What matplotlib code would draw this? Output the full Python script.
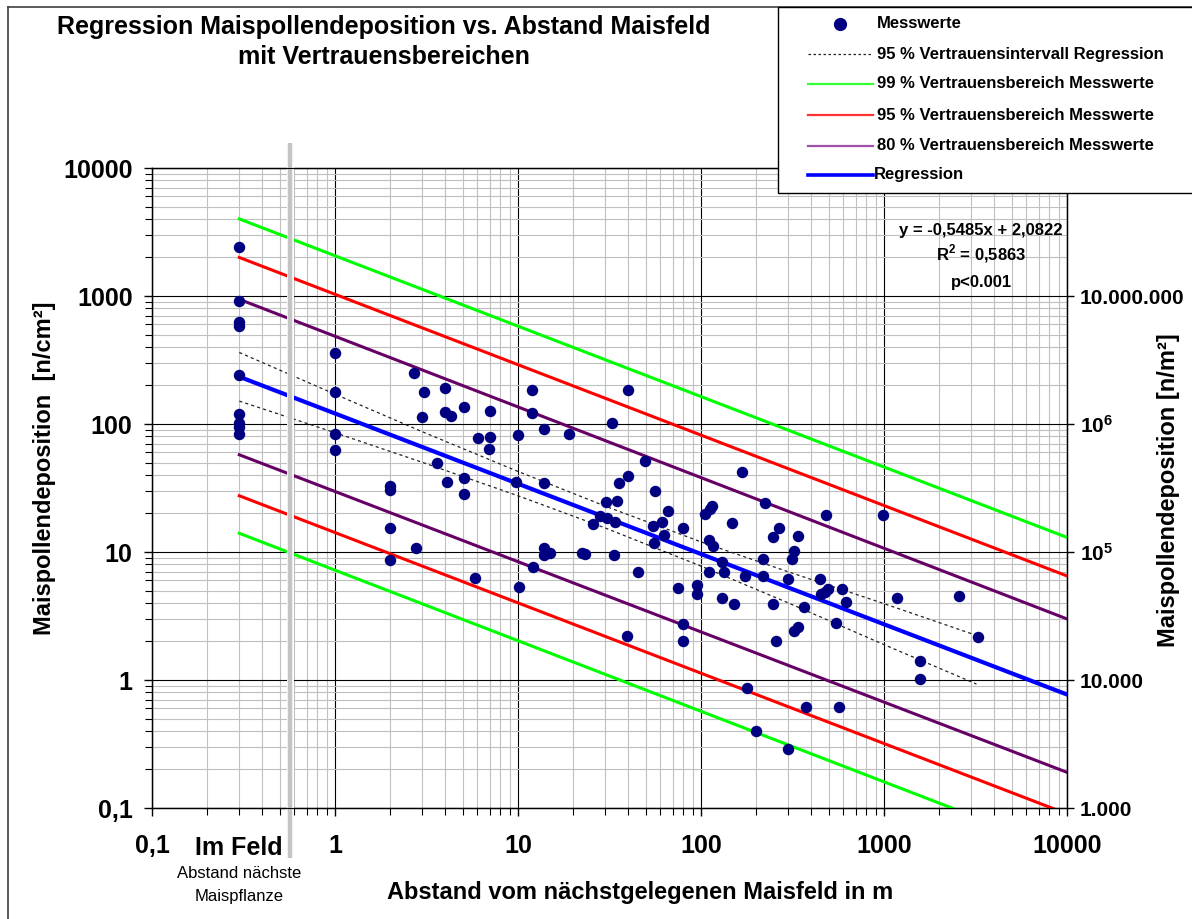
import matplotlib
matplotlib.use("Agg")
import matplotlib.pyplot as plt
import matplotlib.transforms as mtransforms
from matplotlib import font_manager
from matplotlib.lines import Line2D
from matplotlib.patches import Rectangle
from matplotlib.ticker import FixedLocator, LogLocator, NullFormatter, NullLocator


distance_m = [
    0.3, 0.3, 0.3, 0.3, 0.3, 0.3, 0.3, 0.3, 0.3,
    1, 1, 1, 1,
    2, 2, 2, 2,
    2.7, 2.77, 3.05, 3.0, 3.6, 3.97, 4.0, 4.07, 4.3,
    5.07, 5.07, 5.07, 5.8, 6.07, 6.9, 7.03, 7.03,
    9.75, 10, 10.1, 12, 12, 12.1, 13.9, 13.9, 13.9, 13.9, 14.9,
    19.1, 22.3, 23.2, 25.6, 28.1, 30.1, 30.5, 32.7, 33.5, 33.9, 34.9, 35.5,
    39.3, 39.9, 39.9, 45.4, 49.2, 54.5, 55.3, 56.1, 61.2, 63, 66.2,
    74.5, 80, 80, 80, 94.6, 94.6, 105, 111, 111, 112, 115, 117,
    130, 131, 134, 147, 152, 168, 174, 179, 201, 219, 219, 224,
    248, 248, 257, 267, 297, 297, 316, 324, 324, 337, 337, 366, 375,
    447, 453, 476, 485, 492, 547, 567, 592, 620, 982, 1172, 1577, 1577, 2570, 3250,
]
deposition = [
    2400, 920, 630, 585, 240, 120, 102, 95, 83,
    361, 179, 83, 63,
    32.8, 30.5, 15.3, 8.6,
    252, 10.8, 179, 113, 50, 192, 124, 35, 116,
    136, 37.7, 28.3, 6.3, 77.5, 64, 126, 79,
    35.3, 82.5, 5.36, 185, 121, 7.6, 91, 34.6, 10.7, 9.5, 9.8,
    83, 9.9, 9.6, 16.6, 19.1, 24.7, 18.3, 102, 9.4, 17.3, 25.2, 34.8,
    2.22, 185, 39.4, 7.0, 51.7, 16, 11.7, 29.7, 17.3, 13.6, 21,
    5.26, 15.3, 2.74, 2.02, 5.5, 4.68, 19.9, 12.4, 7.0, 21.5, 22.9, 11.1,
    8.4, 4.35, 7.0, 17, 3.9, 42.2, 6.5, 0.87, 0.40, 8.8, 6.5, 24,
    13, 3.9, 2.02, 15.3, 6.1, 0.29, 8.8, 10.1, 2.43, 13.4, 2.6, 3.7, 0.615,
    6.15, 4.7, 4.9, 19.5, 5.1, 2.8, 0.615, 5.1, 4.07, 19.5, 4.35, 1.42, 1.02, 4.56, 2.17,
]

line_x = [0.3, 10000]
regression_y = [234, 0.77]
upper_99 = [4000, 13]
lower_99 = [14, 0.045]
upper_95 = [2000, 6.5]
lower_95 = [27.5, 0.09]
upper_80 = [942, 3.0]
lower_80 = [57.5, 0.19]

# 95 % Vertrauensintervall der Regression
ci_x = [0.3, 1, 3, 10, 30, 100, 300, 1000, 3200]
ci_upper = [362, 171, 87, 42.6, 22.8, 12.0, 7.0, 3.95, 2.23]
ci_lower = [151, 85.5, 50.2, 27.5, 15.4, 7.76, 4.0, 1.89, 0.93]

x_ticks = [0.1, 1, 10, 100, 1000, 10000]
x_ticklabels = ["0,1", "1", "10", "100", "1000", "10000"]
y_ticks = [0.1, 1, 10, 100, 1000, 10000]
y_ticklabels = ["0,1", "1", "10", "100", "1000", "10000"]
right_ticks = [1e3, 1e4, 1e5, 1e6, 1e7]
right_ticklabels = ["1.000", "10.000", r"$\mathbf{10^5}$", r"$\mathbf{10^6}$", "10.000.000"]

field_x = 0.57  # graue Linie "Im Feld"

W, H = 1192, 919
available = {f.name for f in font_manager.fontManager.ttflist}
BASE = "Liberation Sans" if "Liberation Sans" in available else "DejaVu Sans"
NARROW = "Liberation Sans Narrow" if "Liberation Sans Narrow" in available else BASE

plt.rcParams["font.family"] = [BASE, "DejaVu Sans"]
plt.rcParams["mathtext.fontset"] = "custom"
plt.rcParams["mathtext.rm"] = BASE
plt.rcParams["mathtext.bf"] = BASE + ":bold"


def fx(px):
    return px / W


def fy(py):
    return 1 - py / H


fig = plt.figure(figsize=(W / 100, H / 100), dpi=100)
ax = fig.add_axes([fx(152), fy(808), (1067 - 152) / W, (808 - 168) / H])
ax.set_xscale("log")
ax.set_yscale("log")
ax.set_xlim(0.1, 10000)
ax.set_ylim(0.1, 10000)

ax.grid(which="minor", color="#c0c0c0", lw=0.8)
ax.grid(which="major", color="black", lw=0.8)
ax.set_axisbelow(True)

ax.plot(line_x, upper_99, color="#00ff00", lw=2.2, zorder=3)
ax.plot(line_x, lower_99, color="#00ff00", lw=2.2, zorder=3)
ax.plot(line_x, upper_95, color="#ff0000", lw=2.2, zorder=3)
ax.plot(line_x, lower_95, color="#ff0000", lw=2.2, zorder=3)
ax.plot(line_x, upper_80, color="#660066", lw=2.2, zorder=3)
ax.plot(line_x, lower_80, color="#660066", lw=2.2, zorder=3)
ax.plot(ci_x, ci_upper, color="#222222", lw=0.9, ls=(0, (2.5, 2.5)), zorder=3)
ax.plot(ci_x, ci_lower, color="#222222", lw=0.9, ls=(0, (2.5, 2.5)), zorder=3)
ax.plot(line_x, regression_y, color="#0000ff", lw=3.0, zorder=3.2)

trans = mtransforms.blended_transform_factory(ax.transData, ax.transAxes)
ax.plot([field_x, field_x], [1.039, -0.078], color="white", lw=5.0, transform=trans,
        clip_on=False, zorder=3.5, solid_capstyle="butt")
ax.plot([field_x, field_x], [1.039, -0.078], color="#c4c4c4", lw=3.2, transform=trans,
        clip_on=False, zorder=3.6, solid_capstyle="butt")

ax.scatter(distance_m, deposition, s=68, color="#000080", zorder=5, linewidths=0)

ax.xaxis.set_major_locator(FixedLocator(x_ticks))
ax.set_xticklabels(x_ticklabels)
ax.xaxis.set_minor_locator(LogLocator(base=10, subs=range(2, 10)))
ax.xaxis.set_minor_formatter(NullFormatter())
ax.yaxis.set_major_locator(FixedLocator(y_ticks))
ax.set_yticklabels(y_ticklabels)
ax.yaxis.set_minor_locator(LogLocator(base=10, subs=range(2, 10)))
ax.yaxis.set_minor_formatter(NullFormatter())
ax.tick_params(which="major", direction="out", length=6, width=1, labelsize=18, color="black")
ax.tick_params(which="minor", direction="out", length=5, width=0.8, color="black")
ax.tick_params(axis="x", pad=13)
ax.tick_params(axis="y", pad=8)
for lab in ax.get_xticklabels() + ax.get_yticklabels():
    lab.set_fontweight("bold")
for sp in ax.spines.values():
    sp.set_color("black")
    sp.set_linewidth(1)

ax2 = ax.twinx()
ax2.set_yscale("log")
ax2.set_ylim(1e3, 1e8)
ax2.yaxis.set_major_locator(FixedLocator(right_ticks))
ax2.set_yticklabels(right_ticklabels)
ax2.yaxis.set_minor_locator(NullLocator())
ax2.tick_params(axis="y", direction="out", length=5, width=1, labelsize=15, pad=4)
for lab in ax2.get_yticklabels():
    lab.set_fontweight("bold")

# Texte
fig.text(fx(384), fy(27), "Regression Maispollendeposition vs. Abstand Maisfeld",
         ha="center", va="center", fontsize=18, fontweight="bold", family=NARROW)
fig.text(fx(384), fy(57), "mit Vertrauensbereichen",
         ha="center", va="center", fontsize=18, fontweight="bold", family=NARROW)
fig.text(fx(640), fy(893), "Abstand vom nächstgelegenen Maisfeld in m",
         ha="center", va="center", fontsize=17, fontweight="bold")
fig.text(fx(45), fy(468), "Maispollendeposition  [n/cm²]", rotation=90,
         ha="center", va="center", fontsize=17, fontweight="bold")
fig.text(fx(1168), fy(490), "Maispollendeposition [n/m²]", rotation=90,
         ha="center", va="center", fontsize=17, fontweight="bold")
fig.text(fx(239), fy(848), "Im Feld", ha="center", va="center", fontsize=18, fontweight="bold")
fig.text(fx(239), fy(873), "Abstand nächste", ha="center", va="center", fontsize=12, family=NARROW)
fig.text(fx(239), fy(896), "Maispflanze", ha="center", va="center", fontsize=12, family=NARROW)

fig.text(fx(981), fy(230), "y = -0,5485x + 2,0822", ha="center", va="center",
         fontsize=12, fontweight="bold")
fig.text(fx(981), fy(254), "R$^\\mathbf{2}$ = 0,5863", ha="center", va="center",
         fontsize=12, fontweight="bold")
fig.text(fx(981), fy(282), "p<0.001", ha="center", va="center",
         fontsize=12, fontweight="bold")

# Rahmen
fig.add_artist(Line2D([fx(8), fx(8)], [fy(7), fy(919)], color="#404040", lw=1.2))
fig.add_artist(Line2D([fx(8), fx(1192)], [fy(7), fy(7)], color="#404040", lw=1.2))

# Legende
fig.add_artist(Rectangle((fx(778), fy(193)), (1200 - 778) / W, (193 - 7) / H,
                         facecolor="white", edgecolor="black", lw=1.0, zorder=10))
legend_rows = [
    ("Messwerte", None),
    ("95 % Vertrauensintervall Regression", dict(color="#222222", lw=0.9, ls=(0, (2, 2)))),
    ("99 % Vertrauensbereich Messwerte", dict(color="#33ff33", lw=1.6)),
    ("95 % Vertrauensbereich Messwerte", dict(color="#ff3333", lw=1.6)),
    ("80 % Vertrauensbereich Messwerte", dict(color="#a050a8", lw=1.6)),
    ("Regression", dict(color="#0000ff", lw=2.6)),
]
legend_y = [24, 54, 84, 115, 146, 175]
for (label, style), ly in zip(legend_rows, legend_y):
    if style is None:
        fig.add_artist(Line2D([fx(840)], [fy(ly)], marker="o", markersize=8.5, color="#000080",
                              lw=0, zorder=11))
    else:
        fig.add_artist(Line2D([fx(808), fx(873)], [fy(ly), fy(ly)], zorder=11, **style))
    fig.text(fx(877 if label != "Regression" else 874), fy(ly), label, ha="left", va="center",
             fontsize=12, fontweight="bold", zorder=12)

fig.savefig("out.png", dpi=100)
